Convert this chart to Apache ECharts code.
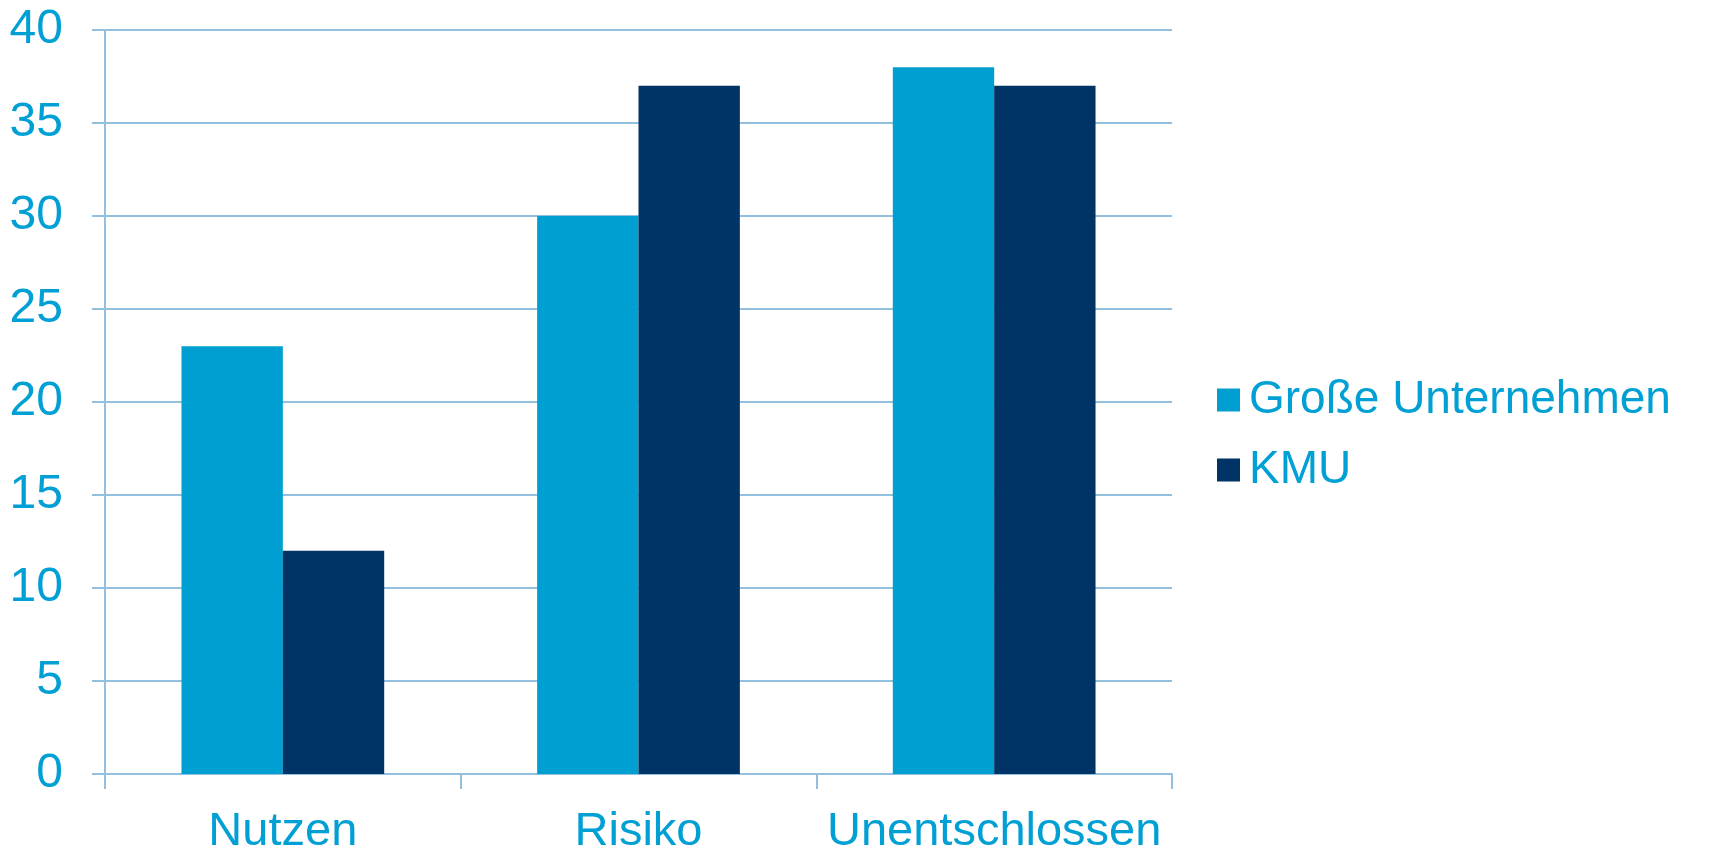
<!DOCTYPE html>
<html><head><meta charset="utf-8">
<script src="https://cdn.jsdelivr.net/npm/echarts@6/dist/echarts.min.js"></script>
<style>html,body{margin:0;padding:0;background:#fff}#c{width:1711px;height:850px}</style>
</head><body><div id="c"></div>
<script>
const categories = ['Nutzen', 'Risiko', 'Unentschlossen'];
const grosseUnternehmen = [23, 30, 38];
const kmu = [12, 37, 37];
const seriesNames = ['Große Unternehmen', 'KMU'];
const yTicks = { min: 0, max: 40, interval: 5 };

const textBlue = '#009FD4';
const lineColor = '#94C0E0';
const font = '"Liberation Sans", Arial, sans-serif';

const chart = echarts.init(document.getElementById('c'));
chart.setOption({
  animation: false,
  grid: { left: 105, right: 539, top: 30, bottom: 76, containLabel: false, outerBoundsMode: 'none' },
  legend: {
    orient: 'vertical', left: 1212, top: 372,
    itemWidth: 23, itemHeight: 23, itemGap: 24,
    icon: 'rect',
    textStyle: { color: textBlue, fontSize: 46, fontFamily: font, lineHeight: 46, padding: [0, 0, 0, 4] },
    data: seriesNames
  },
  xAxis: {
    type: 'category', data: categories,
    axisLine: { lineStyle: { color: lineColor, width: 2 } },
    axisTick: { show: true, length: 15, lineStyle: { color: lineColor, width: 2 } },
    axisLabel: { color: textBlue, fontSize: 47, fontFamily: font, margin: 35, interval: 0 }
  },
  yAxis: {
    type: 'value', min: yTicks.min, max: yTicks.max, interval: yTicks.interval,
    axisLine: { show: true, lineStyle: { color: lineColor, width: 2 } },
    axisTick: { show: true, length: 13, lineStyle: { color: lineColor, width: 2 } },
    splitLine: { lineStyle: { color: lineColor, width: 2 } },
    axisLabel: { color: textBlue, fontSize: 48, fontFamily: font, margin: 42 }
  },
  series: [
    { name: seriesNames[0], type: 'bar', data: grosseUnternehmen, barGap: '0%', barCategoryGap: '43%', itemStyle: { color: '#009FD2' } },
    { name: seriesNames[1], type: 'bar', data: kmu, barGap: '0%', barCategoryGap: '43%', itemStyle: { color: '#003466' } }
  ]
});
</script></body></html>
